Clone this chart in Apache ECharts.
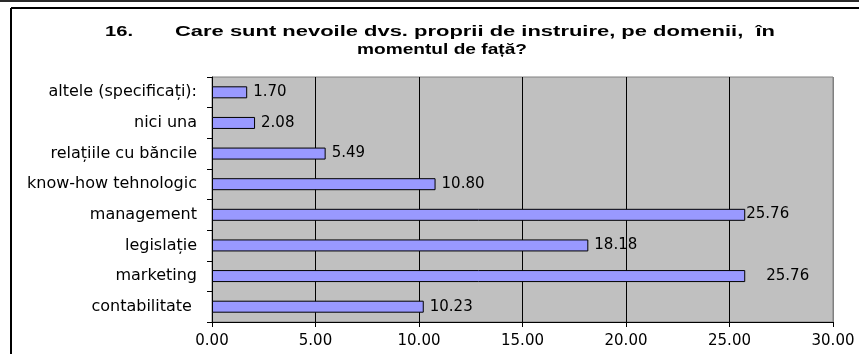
<!DOCTYPE html>
<html>
<head>
<meta charset="utf-8">
<script src="https://cdn.jsdelivr.net/npm/echarts@6/dist/echarts.min.js"></script>
<style>
  html, body { margin: 0; padding: 0; background: #fff; }
  #chart { width: 859px; height: 354px; }
</style>
</head>
<body>
<div id="chart"></div>
<script>
// Training needs by domain (percent of respondents), listed bottom to top
const categories = [
  'contabilitate ',
  'marketing',
  'legislație',
  'management',
  'know-how tehnologic',
  'relațiile cu băncile',
  'nici una',
  'altele (specificați):'
];
const values = [10.23, 25.76, 18.18, 25.76, 10.80, 5.49, 2.08, 1.70];
const xTicks = [0, 5, 10, 15, 20, 25, 30];

const titleNumber = '16.';
const titleLine1 = 'Care sunt nevoile dvs. proprii de instruire, pe domenii,  în';
const titleLine2 = 'momentul de față?';

// a couple of value labels sit slightly off their default spot
const labelShift = {
  'marketing': [15, 0],
  'management': [-5, -1]
};

const chart = echarts.init(document.getElementById('chart'), null, { renderer: 'canvas' });

// The heading is set in a wide, horizontally stretched bold face:
// each line is drawn at 15px and widened to its set width.
const TITLE_FONT = 'bold 15px "Liberation Sans", Arial, sans-serif';
const measureCtx = document.createElement('canvas').getContext('2d');
measureCtx.font = TITLE_FONT;
function stretchedText(text, x, y, width, align) {
  const natural = measureCtx.measureText(text).width || 1;
  return {
    type: 'text',
    x: x,
    y: y,
    scaleX: width / natural,
    silent: true,
    style: {
      text: text,
      font: TITLE_FONT,
      fill: '#000',
      textAlign: align,
      textVerticalAlign: 'bottom'
    }
  };
}

const bodyFont = '"DejaVu Sans", sans-serif';

const option = {
  backgroundColor: '#fff',
  animation: false,
  graphic: [
    { type: 'rect', shape: { x: 0, y: 0, width: 859, height: 2 }, style: { fill: '#2a2a2a' }, silent: true },
    { type: 'line', shape: { x1: 11, y1: 8, x2: 859, y2: 8 }, style: { stroke: '#000', lineWidth: 2 }, silent: true },
    { type: 'line', shape: { x1: 11, y1: 8, x2: 11, y2: 354 }, style: { stroke: '#000', lineWidth: 2 }, silent: true },
    stretchedText(titleNumber, 105, 39, 28, 'left'),
    stretchedText(titleLine1, 175, 39, 600, 'left'),
    stretchedText(titleLine2, 442, 57, 170, 'center')
  ],
  grid: {
    left: 212, right: 26, top: 77, bottom: 32,
    show: true,
    backgroundColor: '#C0C0C0',
    borderColor: '#808080',
    borderWidth: 1
  },
  xAxis: {
    type: 'value',
    min: xTicks[0],
    max: xTicks[xTicks.length - 1],
    interval: xTicks[1] - xTicks[0],
    axisLine: { show: true, lineStyle: { color: '#000', width: 1 } },
    axisTick: { show: true, length: 5, lineStyle: { color: '#000' } },
    axisLabel: {
      margin: 12,
      color: '#000',
      fontFamily: bodyFont,
      fontSize: 15,
      formatter: v => v.toFixed(2)
    },
    splitLine: {
      show: true,
      lineStyle: { color: ['#808080', '#000', '#000', '#000', '#000', '#000', '#808080'], width: 1 }
    }
  },
  yAxis: {
    type: 'category',
    data: categories,
    axisLine: { show: true, lineStyle: { color: '#000', width: 1 } },
    axisTick: { show: true, length: 5, lineStyle: { color: '#000' } },
    axisLabel: {
      margin: 15,
      color: '#000',
      fontFamily: bodyFont,
      fontSize: 16
    },
    splitLine: { show: false }
  },
  series: [{
    type: 'bar',
    barWidth: 12,
    data: values.map((v, i) => {
      const item = { value: v };
      const shift = labelShift[categories[i]];
      if (shift) item.label = { offset: shift };
      return item;
    }),
    itemStyle: { color: '#9999FF', borderColor: '#000', borderWidth: 1 },
    label: {
      show: true,
      position: 'right',
      distance: 6,
      color: '#000',
      fontFamily: bodyFont,
      fontSize: 15,
      formatter: p => p.value.toFixed(2)
    }
  }]
};

chart.setOption(option);
</script>
</body>
</html>
